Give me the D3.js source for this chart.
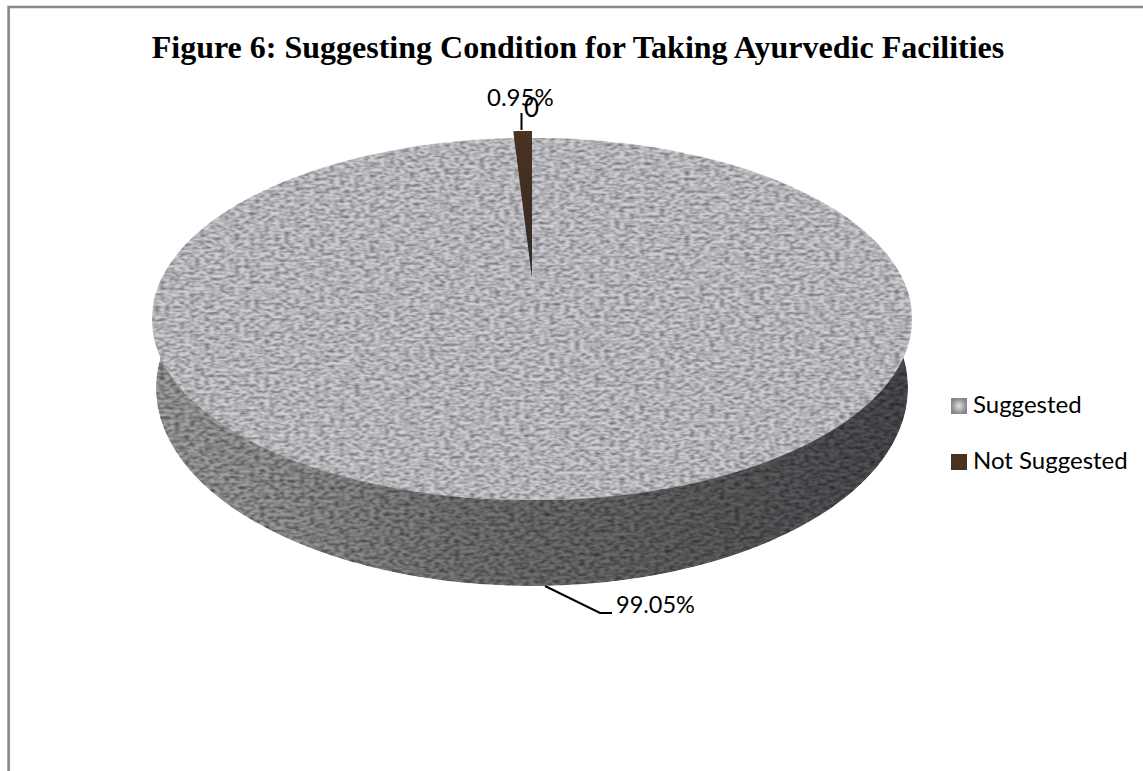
<!DOCTYPE html>
<html>
<head>
<meta charset="utf-8">
<script src="https://cdn.jsdelivr.net/npm/d3@7"></script>
<style>
  html, body { margin: 0; padding: 0; background: #fff; }
  svg { display: block; }
</style>
</head>
<body>
<svg id="chart" width="1143" height="771"></svg>
<script>
const categories = ["Suggested", "Not Suggested"];
const shares = [99.05, 0.95];
const shareLabels = ["99.05%", "0.95%"];
const countLabel = "0";
const chartTitle = "Figure 6: Suggesting Condition for Taking Ayurvedic Facilities";

const svg = d3.select("#chart");
const defs = svg.append("defs");

// Stone grain: stretched noise multiplied over whatever fill the shape has
function grain(id, freq, seed, gain, offset) {
  const f = defs.append("filter").attr("id", id)
    .attr("x", 0).attr("y", 0).attr("width", 1).attr("height", 1)
    .attr("color-interpolation-filters", "sRGB");
  f.append("feTurbulence").attr("type", "fractalNoise")
    .attr("baseFrequency", freq).attr("numOctaves", 2).attr("seed", seed).attr("result", "n");
  f.append("feColorMatrix").attr("in", "n").attr("type", "matrix")
    .attr("values", `${gain} 0 0 0 ${offset} ${gain} 0 0 0 ${offset} ${gain} 0 0 0 ${offset} 0 0 0 0 1`)
    .attr("result", "g");
  f.append("feGaussianBlur").attr("in", "g").attr("stdDeviation", "0.8 0.6").attr("result", "s");
  f.append("feBlend").attr("in", "SourceGraphic").attr("in2", "s").attr("mode", "multiply").attr("result", "b");
  f.append("feComposite").attr("in", "b").attr("in2", "SourceAlpha").attr("operator", "in");
}
grain("grainTop", "0.2 0.32", 4, 0.95, 0.38);
grain("grainSide", "0.2 0.3", 9, 1.1, 0.28);

// Rim shading: light on the left, darkest towards the right
const rim = defs.append("linearGradient").attr("id", "rimShade")
  .attr("gradientUnits", "userSpaceOnUse")
  .attr("x1", 152).attr("x2", 912).attr("y1", 0).attr("y2", 0);
[[0, "#a6a6a6"], [0.15, "#9c9c9c"], [0.4, "#7a7a7a"], [0.62, "#6a6a6a"], [0.85, "#58585c"], [1, "#4c4c52"]]
  .forEach(([o, c]) => rim.append("stop").attr("offset", o).attr("stop-color", c));

const swatch = defs.append("radialGradient").attr("id", "swatchGrey");
swatch.append("stop").attr("offset", 0).attr("stop-color", "#e2e2e4");
swatch.append("stop").attr("offset", 1).attr("stop-color", "#85858a");

const sliver = defs.append("linearGradient").attr("id", "sliverShade")
  .attr("x1", 0).attr("x2", 0).attr("y1", 0).attr("y2", 1);
[[0, "#4b3222"], [0.55, "#3d2d22"], [1, "#2a2c34"]]
  .forEach(([o, c]) => sliver.append("stop").attr("offset", o).attr("stop-color", c));

// Perspective mapping of a flat disc onto the screen; straight lines stay straight,
// so the pie's centre lands above the middle of the drawn ellipse.
function disc(cx, halfWidth, yBack, yCentre, yFront) {
  const c = (2 * yCentre - yBack - yFront) / (yFront - yBack);
  const a = (yFront * (1 + c) - yBack * (1 - c)) / 2;
  const r = halfWidth * Math.sqrt(1 - c * c);
  return (angle, radius) => {
    const u = radius * Math.sin(angle), v = -radius * Math.cos(angle);
    const w = 1 + c * v;
    return [cx + r * u / w, (a * v + yCentre) / w];
  };
}
const topFace = disc(532, 380, 138, 285, 500);
const baseFace = disc(532, 376, 190, 350, 586);

const arcs = d3.pie().sort(null).value(d => d)(shares);
const outline = d3.line();

function wedge(face, d, shiftY) {
  const n = Math.max(2, Math.ceil((d.endAngle - d.startAngle) * 60));
  const pts = d3.range(n + 1).map(i => face(d.startAngle + (d.endAngle - d.startAngle) * i / n, 1));
  return outline([face(0, 0), ...pts].map(p => [p[0], p[1] + shiftY])) + "Z";
}

// Rim: the silhouette running from the widest points of the top face around the base
const tau = 2 * Math.PI;
const sweep = (face, from, to) => d3.range(0, 181).map(i => face(from + (to - from) * i / 180, 1));
const rimPts = [
  topFace(tau * 0.2, 1),
  ...sweep(baseFace, tau * 0.22, tau * 0.78),
  topFace(tau * 0.8, 1)
];
svg.append("path").attr("d", outline(rimPts) + "Z")
  .attr("fill", "url(#rimShade)").attr("filter", "url(#grainSide)");

// Top face: both slices share the stone surface, the pulled-out sliver sits above it
svg.append("g").attr("filter", "url(#grainTop)")
  .selectAll("path").data(arcs).join("path")
  .attr("d", d => wedge(topFace, d, 0))
  .attr("fill", "#cfcfd5").attr("stroke", "#cfcfd5").attr("stroke-width", 0.5);
svg.append("path").attr("d", wedge(topFace, arcs[1], -7))
  .attr("fill", "url(#sliverShade)");

// Frame
svg.append("path").attr("d", "M8.6,771V7H1143")
  .attr("fill", "none").attr("stroke", "#888").attr("stroke-width", 2.6);

// Title
svg.append("text").text(chartTitle)
  .attr("x", 578).attr("y", 58).attr("text-anchor", "middle")
  .attr("font-family", "'Liberation Serif', serif").attr("font-weight", "bold")
  .attr("font-size", 32).attr("fill", "#000");

// Data labels and leaders
const labelFont = "Lato, 'Open Sans', sans-serif";
const leader = [[[521.5, 113], [521.5, 130]], [[545, 586], [600, 613], [612, 613]]];
leader.forEach(pts => svg.append("path").attr("d", outline(pts))
  .attr("fill", "none").attr("stroke", "#000").attr("stroke-width", 2));

svg.append("text").text(shareLabels[1]).attr("x", 487).attr("y", 106)
  .attr("font-family", labelFont).attr("font-size", 24).attr("fill", "#000");
svg.append("text").text(countLabel).attr("x", 524).attr("y", 117)
  .attr("font-family", labelFont).attr("font-size", 26).attr("fill", "#000");
svg.append("text").text(shareLabels[0]).attr("x", 616).attr("y", 613)
  .attr("font-family", labelFont).attr("font-size", 23.5).attr("fill", "#000");

// Legend
const legendY = d3.scalePoint().domain(categories).range([398, 454]);
const swatchFill = ["url(#swatchGrey)", "#4a3120"];
const legend = svg.selectAll("g.entry").data(categories).join("g").attr("class", "entry")
  .attr("transform", d => `translate(951,${legendY(d)})`);
legend.append("rect").attr("width", 16).attr("height", 16).attr("fill", (d, i) => swatchFill[i]);
legend.append("text").text(d => d).attr("x", 22).attr("y", 15)
  .attr("font-family", labelFont).attr("font-size", 24).attr("fill", "#000");
</script>
</body>
</html>
